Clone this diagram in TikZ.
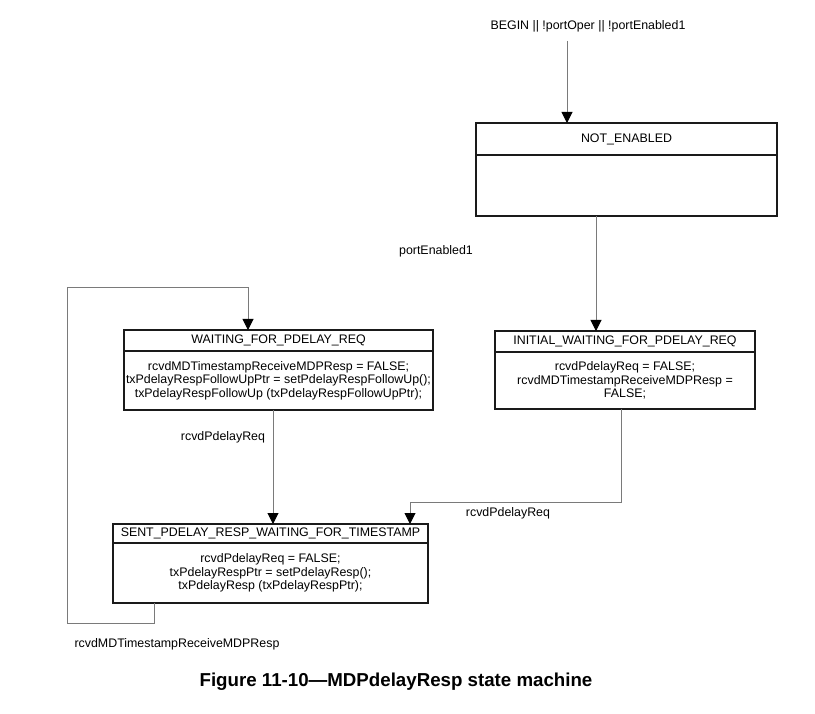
\documentclass[tikz,border=0pt]{standalone}
\usepackage{fontspec}
\setmainfont{Liberation Sans}
\usepackage{tikz}
\usepackage{xcolor}
\usetikzlibrary{arrows.meta, positioning}
\definecolor{boxline}{HTML}{1A1A1A}
\definecolor{wire}{HTML}{7A7A7A}

\begin{document}
\begin{tikzpicture}[x=1pt, y=-1pt,
            hd/.style={draw=boxline, line width=1.3pt, fill=white, inner sep=0pt, outer sep=0pt, anchor=north west,
                       font=\fontsize{12.4}{13.5}\selectfont},
            bd/.style={draw=boxline, line width=1.3pt, fill=white, inner sep=0pt, outer sep=0pt, align=center,
                       font=\fontsize{12.4}{13.5}\selectfont},
            lbl/.style={font=\fontsize{12.4}{13.5}\selectfont, inner sep=0pt},
            conn/.style={draw=wire, line width=1pt, -{Triangle[width=11pt, length=11pt, color=black]}}]
            \useasboundingbox (0,0) rectangle (815,714);
            % states
            \node[hd, minimum width=301, minimum height=32] (ne) at (476,123) {NOT\_ENABLED};
            \node[bd, minimum width=301, minimum height=61, below=0pt of ne] (neb) {};
            \node[hd, minimum width=260, minimum height=21] (iw) at (495,331) {INITIAL\_WAITING\_FOR\_PDELAY\_REQ};
            \node[bd, minimum width=260, minimum height=57, below=0pt of iw] (iwb)
                {rcvdPdelayReq = FALSE;\\ rcvdMDTimestampReceiveMDPResp =\\ FALSE;};
            \node[hd, minimum width=309, minimum height=21] (wp) at (124,330) {WAITING\_FOR\_PDELAY\_REQ};
            \node[bd, minimum width=309, minimum height=59, below=0pt of wp] (wpb)
                {rcvdMDTimestampReceiveMDPResp = FALSE;\\ txPdelayRespFollowUpPtr = setPdelayRespFollowUp();\\ txPdelayRespFollowUp (txPdelayRespFollowUpPtr);};
            \node[hd, minimum width=315, minimum height=19] (sp) at (113,524) {SENT\_PDELAY\_RESP\_WAITING\_FOR\_TIMESTAMP};
            \node[bd, minimum width=315, minimum height=60, below=0pt of sp] (spb)
                {rcvdPdelayReq = FALSE;\\ txPdelayRespPtr = setPdelayResp();\\ txPdelayResp (txPdelayRespPtr);};
            % labels
            \node[lbl] (begin) at (588,26) {BEGIN || !portOper || !portEnabled1};
            \node[lbl] (l1) at (436,251) {portEnabled1};
            \node[lbl] (l2) at (223,437) {rcvdPdelayReq};
            \node[lbl] (l3) at (508,513) {rcvdPdelayReq};
            \node[lbl] (l4) at (177,644) {rcvdMDTimestampReceiveMDPResp};
            \node[font=\bfseries\fontsize{18.7}{20}\selectfont, inner sep=0pt] (cap) at (396,682)
                {Figure 11-10—MDPdelayResp state machine};
            % bends
            \coordinate (b0) at (567,41);
            \coordinate (b1) at (596,216);
            \coordinate (b2) at (621,502);
            \coordinate (b3) at (410,502);
            \coordinate (b4) at (273,410);
            \coordinate (b5) at (154,623);
            \coordinate (b6) at (67,623);
            \coordinate (b7) at (67,288);
            \coordinate (b8) at (248,288);
            % transitions
            \draw[conn] (b0) -- (ne.north -| b0);
            \draw[conn] (neb.south -| b1) -- (iw.north -| b1);
            \draw[conn] (iwb.south -| b2) -- (b2) -- (b3) -- (sp.north -| b3);
            \draw[conn] (wpb.south -| b4) -- (sp.north -| b4);
            \draw[conn] (spb.south -| b5) -- (b5) -- (b6) -- (b7) -- (b8) -- (wp.north -| b8);
        \end{tikzpicture}
\end{document}
